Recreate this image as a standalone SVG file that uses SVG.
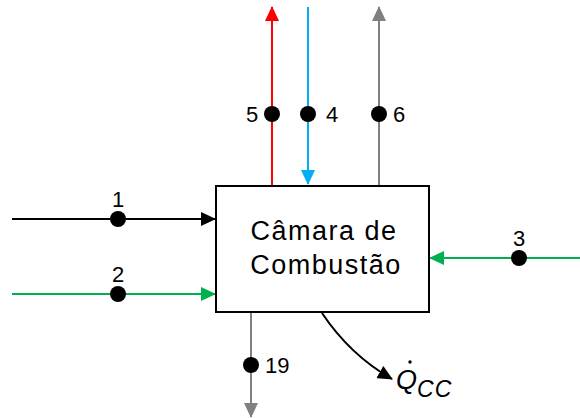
<svg xmlns="http://www.w3.org/2000/svg" width="580" height="418" viewBox="0 0 580 418">
<style>
.ln{fill:none;stroke-width:2}
.dot{fill:#000}
.lbl{font-family:"Liberation Sans",Arial,sans-serif;font-size:22px;fill:#000}
.box{fill:#fff;stroke:#000;stroke-width:2}
.bt{font-family:"Liberation Sans",Arial,sans-serif;font-size:27px;letter-spacing:1.5px;fill:#000;text-anchor:middle}
.q{font-family:"Liberation Sans",Arial,sans-serif;font-size:27px;font-style:italic;fill:#000}
</style>
<defs>
<marker id="aK" markerUnits="userSpaceOnUse" markerWidth="16" markerHeight="14" refX="14" refY="7" orient="auto"><path d="M0,0 L15,7 L0,14 Z" fill="#000"/></marker>
<marker id="aG" markerUnits="userSpaceOnUse" markerWidth="16" markerHeight="14" refX="14" refY="7" orient="auto"><path d="M0,0 L15,7 L0,14 Z" fill="#00B050"/></marker>
<marker id="aR" markerUnits="userSpaceOnUse" markerWidth="16" markerHeight="14" refX="14" refY="7" orient="auto"><path d="M0,0 L15,7 L0,14 Z" fill="#FF0000"/></marker>
<marker id="aB" markerUnits="userSpaceOnUse" markerWidth="16" markerHeight="14" refX="14" refY="7" orient="auto"><path d="M0,0 L15,7 L0,14 Z" fill="#00B0F0"/></marker>
<marker id="aY" markerUnits="userSpaceOnUse" markerWidth="16" markerHeight="14" refX="14" refY="7" orient="auto"><path d="M0,0 L15,7 L0,14 Z" fill="#808080"/></marker>
</defs>
<g id="connectors">
<line class="ln" x1="12" y1="219" x2="215" y2="219" stroke="#000" marker-end="url(#aK)"/>
<line class="ln" x1="12" y1="294" x2="215" y2="294" stroke="#00B050" marker-end="url(#aG)"/>
<line class="ln" x1="580" y1="258" x2="430" y2="258" stroke="#00B050" marker-end="url(#aG)"/>
<line class="ln" x1="272" y1="185" x2="272" y2="7" stroke="#FF0000" marker-end="url(#aR)"/>
<line class="ln" x1="308" y1="7" x2="308" y2="184" stroke="#00B0F0" marker-end="url(#aB)"/>
<line class="ln" x1="379" y1="185" x2="379" y2="7" stroke="#808080" marker-end="url(#aY)"/>
<line class="ln" x1="251" y1="313" x2="251" y2="417" stroke="#808080" marker-end="url(#aY)"/>
<path class="ln" d="M322,313 Q350,355 392,379" stroke="#000" marker-end="url(#aK)"/>
</g>
<g id="box">
<rect class="box" x="216" y="186" width="213" height="126"/>
<text class="bt" x="324" y="240">Câmara de</text>
<text class="bt" x="326" y="274">Combustão</text>
</g>
<g id="p1"><circle class="dot" cx="118" cy="219" r="8"/><text class="lbl" x="118" y="207" text-anchor="middle">1</text></g>
<g id="p2"><circle class="dot" cx="118" cy="294" r="8"/><text class="lbl" x="118" y="282" text-anchor="middle">2</text></g>
<g id="p3"><circle class="dot" cx="519" cy="258" r="8"/><text class="lbl" x="519" y="246" text-anchor="middle">3</text></g>
<g id="p5"><circle class="dot" cx="272" cy="114" r="8"/><text class="lbl" x="252" y="122" text-anchor="middle">5</text></g>
<g id="p4"><circle class="dot" cx="308" cy="114" r="8"/><text class="lbl" x="332" y="122" text-anchor="middle">4</text></g>
<g id="p6"><circle class="dot" cx="379" cy="114" r="8"/><text class="lbl" x="399" y="122" text-anchor="middle">6</text></g>
<g id="p19"><circle class="dot" cx="251" cy="365" r="8"/><text class="lbl" x="265" y="373">19</text></g>
<g id="qcc">
<text class="q" x="396" y="389">Q<tspan style="font-size:23px;letter-spacing:1px" dy="8">CC</tspan></text>
<circle cx="410" cy="362" r="1.7" fill="#000"/>
</g>
</svg>
